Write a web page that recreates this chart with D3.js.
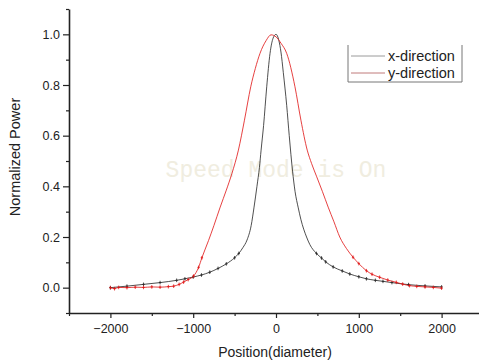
<!DOCTYPE html>
<html>
<head>
<meta charset="utf-8">
<script src="https://cdn.jsdelivr.net/npm/d3@7"></script>
<style>
  body { margin: 0; background: #fff; }
  svg { display: block; }
</style>
</head>
<body>
<script>
// chart size
var width = 479;
var height = 362;

// x-direction scan (black): position in diameters, normalized power
var xDirPos = [-2000, -1800, -1600, -1400, -1200, -1100, -1000, -900, -800, -700, -600, -500, -450, -400, -350, -300, -265, -230, -200, -180, -150, -112, -72, -35, 0,
  35, 60, 88, 129, 160, 200, 230, 269, 300, 369, 409, 489, 550, 600, 690, 800, 891, 1000, 1092, 1200, 1292, 1400, 1600, 1800, 2000];
var xDirPower = [0.000, 0.006, 0.013, 0.020, 0.029, 0.035, 0.042, 0.050, 0.061, 0.076, 0.094, 0.118, 0.135, 0.158, 0.188, 0.245, 0.318, 0.40, 0.475, 0.543, 0.64, 0.793, 0.925, 0.985, 1.0,
  0.975, 0.93, 0.85, 0.72, 0.60, 0.46, 0.38, 0.315, 0.27, 0.20, 0.17, 0.135, 0.117, 0.102, 0.082, 0.066, 0.054, 0.043, 0.035, 0.029, 0.025, 0.020, 0.012, 0.007, 0.003];

// y-direction scan (red)
var yDirPos = [-2000, -1950, -1900, -1800, -1700, -1600, -1500, -1400, -1300, -1236, -1170, -1116, -1060, -995, -935, -895, -815, -750, -674, -600, -533, -454, -381, -305, -250, -193, -120, -60,
  0, 60, 129, 229, 301, 377, 430, 489, 560, 630, 700, 770, 850, 931, 1000, 1092, 1160, 1252, 1350, 1453, 1530, 1613, 1700, 1800, 1900, 2000];
var yDirPower = [0.000, -0.004, 0.001, 0.000, 0.002, 0.001, 0.003, 0.002, 0.004, 0.006, 0.013, 0.022, 0.032, 0.046, 0.080, 0.118, 0.186, 0.245, 0.318, 0.385, 0.450, 0.543, 0.661, 0.793, 0.865, 0.925, 0.975, 0.998,
  0.99, 0.965, 0.925, 0.793, 0.661, 0.543, 0.49, 0.44, 0.38, 0.318, 0.26, 0.20, 0.155, 0.12, 0.095, 0.067, 0.053, 0.041, 0.030, 0.021, 0.014, 0.008, 0.005, 0.003, 0.001, -0.002];

// tick values
var xMajorTicks = [-2000, -1000, 0, 1000, 2000];
var xMinorTicks = [-2500, -1500, -500, 500, 1500, 2500];
var yMajorTicks = [0.0, 0.2, 0.4, 0.6, 0.8, 1.0];
var yMinorTicks = [-0.1, 0.1, 0.3, 0.5, 0.7, 0.9, 1.1];

var seriesNames = ["x-direction", "y-direction"];
var seriesColors = ["#222222", "#e01010"];

var svg = d3.select("body")
  .append("svg")
  .attr("width", width)
  .attr("height", height)
  .style("font-family", "'Liberation Sans', Arial, sans-serif");

var x = d3.scaleLinear().domain([-2500, 2500]).range([69, 483]);
var y = d3.scaleLinear().domain([-0.1, 1.1]).range([313, 9]);

// watermark behind the curves
svg.append("text")
  .attr("x", 276)
  .attr("y", 177)
  .attr("text-anchor", "middle")
  .style("font-family", "'Liberation Mono', 'Courier New', monospace")
  .style("font-size", "23px")
  .style("fill", "#f0ede0")
  .text("Speed Mode is On");

// curves
var series = [
  {pos: xDirPos, power: xDirPower},
  {pos: yDirPos, power: yDirPower}
];

var line = d3.line()
  .x(function(d) { return x(d[0]); })
  .y(function(d) { return y(d[1]); })
  .curve(d3.curveMonotoneX);

series.forEach(function(s, i) {
  var pts = d3.zip(s.pos, s.power);
  svg.append("path")
    .datum(pts)
    .attr("fill", "none")
    .attr("stroke", seriesColors[i])
    .attr("stroke-width", 0.8)
    .attr("d", line);

  // small plus markers, only visible as ticks on the flat tails
  svg.selectAll(".mk" + i)
    .data(pts.filter(function(d) { return d[1] < 0.15; }))
    .enter()
    .append("path")
    .attr("class", "mk" + i)
    .attr("d", function(d) {
      var cx = x(d[0]), cy = y(d[1]);
      return "M" + (cx - 1.2) + "," + cy + "H" + (cx + 1.2) +
        "M" + cx + "," + (cy - 1.8) + "V" + (cy + 1.8);
    })
    .attr("stroke", seriesColors[i])
    .attr("stroke-width", 0.8);
});

// axes
svg.append("g")
  .attr("transform", "translate(69,0)")
  .call(d3.axisLeft(y).tickValues(yMajorTicks).tickSize(6).tickSizeOuter(0).tickPadding(3)
    .tickFormat(d3.format(".1f")));
svg.append("g")
  .attr("transform", "translate(69,0)")
  .call(d3.axisLeft(y).tickValues(yMinorTicks).tickSize(3).tickSizeOuter(0).tickFormat(""))
  .select(".domain").remove();

svg.append("g")
  .attr("transform", "translate(0,313)")
  .call(d3.axisBottom(x).tickValues(xMajorTicks).tickSize(5).tickSizeOuter(0).tickPadding(6)
    .tickFormat(d3.format("d")));
svg.append("g")
  .attr("transform", "translate(0,313)")
  .call(d3.axisBottom(x).tickValues(xMinorTicks).tickSize(3).tickSizeOuter(0).tickFormat(""))
  .select(".domain").remove();

svg.selectAll(".domain").attr("stroke", "#222").attr("stroke-width", 1.6);
svg.selectAll(".tick line").attr("stroke", "#222").attr("stroke-width", 1.2);
svg.selectAll(".tick text")
  .style("font-family", "'Liberation Sans', Arial, sans-serif")
  .style("font-size", "12.5px")
  .attr("fill", "#222");

// axis titles
svg.append("text")
  .attr("x", 275)
  .attr("y", 357)
  .attr("text-anchor", "middle")
  .style("font-size", "14px")
  .attr("fill", "#222")
  .text("Position(diameter)");

svg.append("text")
  .attr("transform", "translate(20,157) rotate(-90)")
  .attr("text-anchor", "middle")
  .style("font-size", "14.5px")
  .attr("fill", "#222")
  .text("Normalized Power");

// legend (open at the top)
svg.append("path")
  .attr("d", "M348,45V82H462V45")
  .attr("fill", "none")
  .attr("stroke", "#777")
  .attr("stroke-width", 1);

var legendColors = ["#9a9a9a", "#c07a7a"];
seriesNames.forEach(function(name, i) {
  var ly = 56 + i * 17;
  svg.append("line")
    .attr("x1", 351).attr("x2", 385)
    .attr("y1", ly).attr("y2", ly)
    .attr("stroke", legendColors[i])
    .attr("stroke-width", 1);
  svg.append("text")
    .attr("x", 388)
    .attr("y", ly + 5)
    .style("font-size", "14.5px")
    .attr("fill", "#222")
    .text(name);
});
</script>
</body>
</html>
